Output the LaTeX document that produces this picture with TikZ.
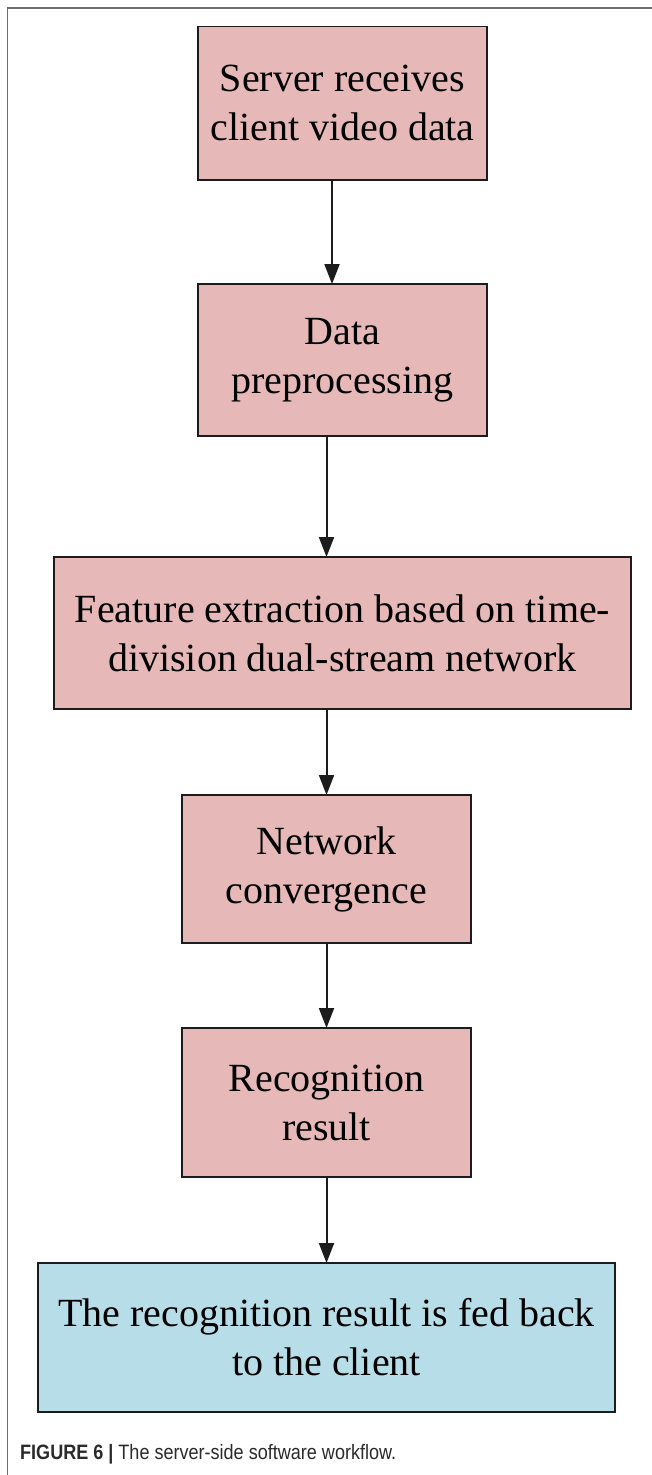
\documentclass[tikz,border=0pt]{standalone}
\usepackage{fontspec}
\setmainfont{Liberation Serif}
\newfontfamily\capfont{Liberation Sans}
\usetikzlibrary{arrows.meta,calc}

\definecolor{boxpink}{HTML}{E6B9B8}
\definecolor{boxblue}{HTML}{B7DEE8}
\definecolor{edgeblack}{HTML}{1C1C1C}
\definecolor{framegray}{HTML}{6E6E6E}
\definecolor{captext}{HTML}{2A2A2A}

\tikzset{
  flowbox/.style={draw=edgeblack, line width=1.6pt, rectangle, inner sep=0pt, outer sep=0pt,
    align=center, text=black,
    font=\fontsize{40}{49}\selectfont},
  pinkbox/.style={flowbox, fill=boxpink},
  bluebox/.style={flowbox, fill=boxblue},
  narrowbox/.style={minimum width=289pt},
  widebox/.style={minimum width=577pt},
  flowarrow/.style={draw=edgeblack, line width=2pt,
    -{Triangle[length=20pt,width=15pt]}},
  framerule/.style={draw=framegray, line width=1.5pt}
}

\begin{document}
\begin{tikzpicture}[x=1pt,y=-1pt]
  \useasboundingbox (0,0) rectangle (652,1475);

  % panel frame (top and left rules)
  \coordinate (fcorner) at (7.5,8);
  \coordinate (ftopend) at (652,8);
  \coordinate (fleftend) at (7.5,1475);
  \draw[framerule] (ftopend) -- (fcorner) -- (fleftend);

  % workflow steps
  \node[pinkbox, narrowbox, minimum height=153.5pt] (b1) at (342.5,103.3)
    {Server receives\\client video data};
  \node[pinkbox, narrowbox, minimum height=152pt] (b2) at (342.5,360)
    {Data\\preprocessing};
  \node[pinkbox, widebox, minimum height=152pt] (b3) at (342.5,633)
    {Feature extraction based on time-\\division dual-stream network};
  \node[pinkbox, narrowbox, minimum height=148pt] (b4) at (326.5,869)
    {Network\\convergence};
  \node[pinkbox, narrowbox, minimum height=149pt] (b5) at (326.5,1102.5)
    {Recognition\\result};
  \node[bluebox, widebox, minimum height=149pt] (b6) at (326.5,1337.5)
    {The recognition result is fed back\\to the client};

  % connectors
  \draw[flowarrow] ([xshift=-10.5pt]b1.south) -- ([xshift=-10.5pt]b1.south |- b2.north);
  \draw[flowarrow] ([xshift=-16pt]b2.south) -- ([xshift=-16pt]b2.south |- b3.north);
  \draw[flowarrow] ([xshift=-16pt]b3.south) -- ([xshift=-16pt]b3.south |- b4.north);
  \draw[flowarrow] (b4.south) -- (b4.south |- b5.north);
  \draw[flowarrow] (b5.south) -- (b5.south |- b6.north);

  % caption
  \node[anchor=base west, inner sep=0pt, text=captext, xscale=0.97, yscale=1.12, transform shape,
        font=\capfont\fontsize{18.6}{21}\selectfont] (cap) at (20,1459.5)
    {\textbf{FIGURE 6} {\fontseries{b}\selectfont|} The server-side software workflow.};
\end{tikzpicture}
\end{document}
